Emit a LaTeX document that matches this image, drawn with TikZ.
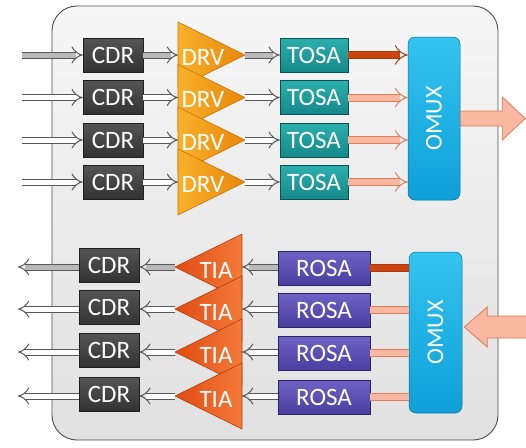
\documentclass[tikz,border=0pt]{standalone}
\usepackage{fontspec}
\setmainfont{Carlito}
\usetikzlibrary{arrows.meta,calc}

\definecolor{cdrA}{HTML}{555555}
\definecolor{cdrB}{HTML}{333333}
\definecolor{drvA}{HTML}{F9B12A}
\definecolor{drvB}{HTML}{E8860A}
\definecolor{drvE}{HTML}{C97406}
\definecolor{tiaA}{HTML}{F47A3A}
\definecolor{tiaB}{HTML}{E04C12}
\definecolor{tiaE}{HTML}{B83C0A}
\definecolor{tosaA}{HTML}{2BB0AE}
\definecolor{tosaB}{HTML}{15888A}
\definecolor{rosaA}{HTML}{6E62C4}
\definecolor{rosaB}{HTML}{4A3FA0}
\definecolor{omuxA}{HTML}{33C4F0}
\definecolor{omuxB}{HTML}{0E9FD8}
\definecolor{salmon}{HTML}{F9B8A2}
\definecolor{salmonE}{HTML}{E27B57}
\definecolor{rust}{HTML}{C9440E}

\tikzset{
  lbl/.style={text=white, font=\fontsize{25}{25}\selectfont},
  blk/.style={lbl, draw=#1!60!black, line width=0.5pt, minimum height=34, inner sep=0pt},
  cdrbox/.style={blk=cdrB, top color=cdrA, bottom color=cdrB, minimum width=60},
  tosabox/.style={blk=tosaB, top color=tosaA, bottom color=tosaB, minimum width=68},
  rosabox/.style={blk=rosaB, top color=rosaA, bottom color=rosaB, minimum width=92},
  omuxbox/.style={draw=omuxB!70!black, line width=0.5pt, top color=omuxA, bottom color=omuxB,
    rounded corners=7pt},
  omuxlbl/.style={lbl, rotate=90, font=\fontsize{24}{24}\selectfont},
  drvtri/.style={draw=drvE, line width=0.6pt, left color=drvA, right color=drvB, line join=round},
  tiatri/.style={draw=tiaE, line width=0.6pt, right color=tiaA, left color=tiaB, line join=round},
  wire/.style={draw=gray!70!black, line width=1pt, double=white, double distance=5pt,
    -{Implies}},
  darkwire/.style={wire, double=gray!55},
  owire/.style={draw=salmonE, line width=1pt, double=salmon, double distance=6pt, -{Implies}},
  rustwire/.style={owire, draw=rust!85!black, double=rust},
  obar/.style={draw=salmonE, line width=1pt, double=salmon, double distance=6pt},
  rustbar/.style={obar, draw=rust!85!black, double=rust},
  bigarrow/.style={draw=salmonE, line width=0.8pt, fill=salmon, line join=miter},
}

\begin{document}
\begin{tikzpicture}[x=1pt,y=-1pt]
\useasboundingbox (0,0) rectangle (526,447);

% module housing
\draw[draw=gray!60!black, line width=0.9pt, top color=gray!7, bottom color=gray!24,
  rounded corners=25pt] (52,6) rectangle (498,440);

% ---------------- transmit side ----------------
\foreach \i/\y in {1/55,2/97.5,3/140,4/182} {
  \coordinate (in\i) at (22,\y);
  \node[cdrbox]  (cdrT\i)  at (113,\y) {CDR};
  \node[tosabox] (tosa\i)  at (314,\y) {TOSA};
}
% driver amplifiers, each drawn over the one above it
\foreach \i/\y in {1/55,2/97.5,3/140,4/182} {
  \draw[drvtri] (178,\y-33) -- (245,\y) -- (178,\y+33) -- cycle;
  \coordinate (drvIn\i) at (178,\y);
  \coordinate (drvOut\i) at (245,\y);
  \node[lbl] (drv\i) at (203,\y+2) {DRV};
}
\node[omuxbox, minimum width=52, minimum height=163, inner sep=0pt] (omuxT) at (434,118.5) {};
\node[omuxlbl] (omuxTl) at (omuxT.center) {OMUX};

\draw[darkwire] (in1) -- (cdrT1.west);
\draw[darkwire] (cdrT1.east) -- (drvIn1);
\draw[darkwire] (drvOut1) -- (tosa1.west);
\foreach \i in {2,3,4} {
  \draw[wire] (in\i) -- (cdrT\i.west);
  \draw[wire] (cdrT\i.east) -- (drvIn\i);
  \draw[wire] (drvOut\i) -- (tosa\i.west);
}
\draw[rustwire] (tosa1.east) -- (tosa1.east -| omuxT.west);
\foreach \i in {2,3,4}
  \draw[owire] (tosa\i.east) -- (tosa\i.east -| omuxT.west);

% multiplexed optical output
\draw[bigarrow] (omuxT.east) ++(0,-7.5) -- ++(42,0) -- ++(0,-14) -- ++(23,21.5)
  -- ++(-23,21.5) -- ++(0,-14) -- ++(-42,0) -- cycle;

% ---------------- receive side ----------------
\foreach \i/\y in {5/267,6/309,7/352,8/396} {
  \coordinate (out\i) at (18,\y);
  \node[cdrbox]  (cdrR\i) at (109,\y-2) {CDR};
  \node[rosabox] (rosa\i) at (324,\y+1) {ROSA};
}
\foreach \i/\y in {5/267,6/309,7/352,8/396} {
  \draw[tiatri] (242,\y-33) -- (175,\y) -- (242,\y+33) -- cycle;
  \coordinate (tiaOut\i) at (175,\y);
  \coordinate (tiaIn\i) at (242,\y);
  \node[lbl] (tia\i) at (216,\y+3) {TIA};
}
\node[omuxbox, minimum width=53, minimum height=161, inner sep=0pt] (omuxR) at (435.5,332.5) {};
\node[omuxlbl] (omuxRl) at (omuxR.center) {OMUX};

\draw[darkwire] (cdrR5.west |- out5) -- (out5);
\draw[darkwire] (tiaOut5) -- (tiaOut5 -| cdrR5.east);
\draw[darkwire] (rosa5.west |- tiaIn5) -- (tiaIn5);
\foreach \i in {6,7,8} {
  \draw[wire] (cdrR\i.west |- out\i) -- (out\i);
  \draw[wire] (tiaOut\i) -- (tiaOut\i -| cdrR\i.east);
  \draw[wire] (rosa\i.west |- tiaIn\i) -- (tiaIn\i);
}
\draw[rustbar] (rosa5.east) -- (rosa5.east -| omuxR.west);
\foreach \i in {6,7,8}
  \draw[obar] (rosa\i.east) -- (rosa\i.east -| omuxR.west);

% multiplexed optical input
\draw[bigarrow] ($(omuxR.east)+(2,-5.5)$) -- ++(23,-20) -- ++(0,9) -- ++(40,0) -- ++(0,22)
  -- ++(-40,0) -- ++(0,9) -- cycle;
\end{tikzpicture}
\end{document}
